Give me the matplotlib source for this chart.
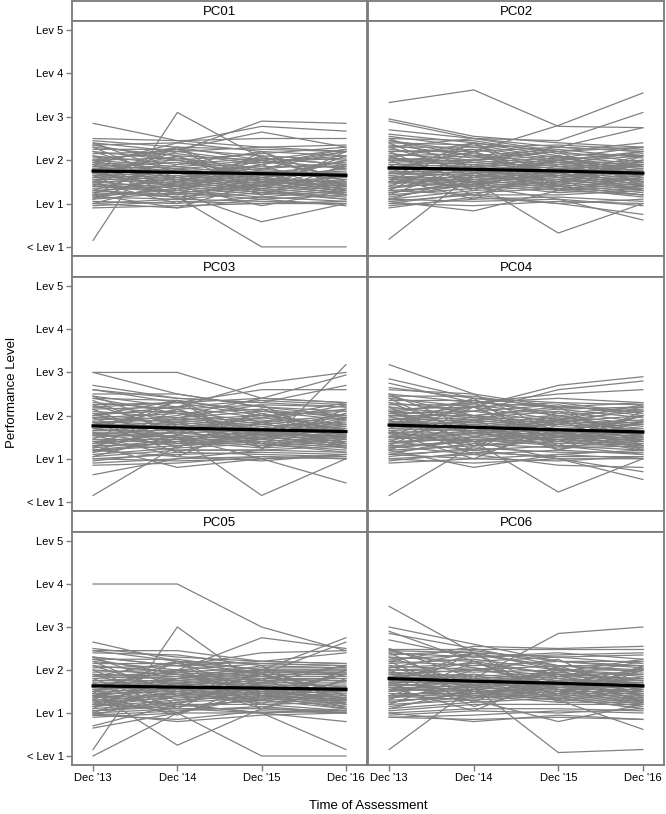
import matplotlib
matplotlib.use("Agg")
import matplotlib.pyplot as plt

plt.rcParams['font.family'] = ['Liberation Sans', 'DejaVu Sans']

time_labels = ["Dec '13", "Dec '14", "Dec '15", "Dec '16"]
level_labels = ["< Lev 1", "Lev 1", "Lev 2", "Lev 3", "Lev 4", "Lev 5"]
panel_names = ["PC01", "PC02", "PC03", "PC04", "PC05", "PC06"]

pc01_lines = [
    [2.5,2.45,2.5,2.5],[2.45,2.3,2.25,2.2],[2.4,2.2,2.3,2.35],[2.35,2.4,2.2,2.1],
    [2.3,2.1,2.0,2.25],[2.25,2.25,2.1,2.0],[2.2,2.0,2.15,2.3],[2.15,2.2,1.95,2.05],
    [2.1,1.9,2.05,1.9],[2.05,2.15,1.9,2.2],[2.0,1.85,2.0,1.8],[2.0,2.05,1.8,1.95],
    [1.95,1.8,1.95,2.1],[1.9,2.0,1.75,1.7],[1.9,1.75,1.85,1.85],[1.85,1.95,1.7,1.9],
    [1.85,1.7,1.8,1.6],[1.8,1.85,1.65,1.75],[1.8,1.6,1.75,1.55],[1.75,1.8,1.6,1.8],
    [1.75,1.55,1.7,1.65],[1.7,1.75,1.55,1.5],[1.7,1.5,1.65,1.7],[1.65,1.7,1.5,1.6],
    [1.65,1.45,1.6,1.45],[1.6,1.65,1.45,1.55],[1.6,1.4,1.55,1.4],[1.55,1.6,1.4,1.65],
    [1.5,1.35,1.5,1.35],[1.5,1.55,1.35,1.5],[1.45,1.3,1.45,1.3],[1.4,1.5,1.3,1.45],
    [1.4,1.25,1.4,1.25],[1.35,1.45,1.25,1.4],[1.3,1.2,1.35,1.2],[1.3,1.4,1.2,1.35],
    [1.25,1.15,1.3,1.15],[1.2,1.3,1.15,1.3],[1.15,1.1,1.25,1.1],[1.1,1.25,1.1,1.2],
    [1.05,1.0,1.15,1.05],[1.0,1.1,1.05,1.0],[0.95,1.05,1.0,1.0],[0.9,0.95,1.0,1.05],
    [1.0,0.9,1.1,0.95],
    [2.3,1.5,2.1,1.4],[1.2,2.1,1.3,2.2],[2.1,1.3,1.9,1.2],[1.4,2.3,1.5,2.0],[1.9,1.2,2.2,1.5],
    [1.1,1.8,1.2,1.9],[2.4,1.7,1.4,2.1],[1.3,1.9,2.2,1.3],[1.8,1.1,1.6,2.0],[1.6,2.3,1.2,1.7],
    [2.2,1.6,1.3,1.1],[1.0,1.5,2.0,1.6],[1.7,2.1,1.5,1.2],[1.5,1.0,1.8,2.2],[2.0,1.4,1.7,1.3],
    [1.25,1.6,1.9,2.25],[2.35,2.0,1.6,1.45],[1.55,1.25,1.4,1.85],[1.95,2.3,2.0,1.6],[1.15,1.35,1.6,1.25],
    [2.85,2.45,2.3,2.2],[0.15,3.1,2.05,1.9],[1.3,1.15,0.0,0.0],[1.45,1.25,0.58,1.0],
    [1.6,2.2,2.9,2.85],[1.9,2.4,2.78,2.67],[2.0,2.25,2.65,2.3],[1.2,0.9,1.5,1.4],
    [1.7,1.4,0.95,1.3],
]
pc02_lines = [
    [2.6,2.4,2.2,2.3],[2.55,2.3,2.35,2.25],[2.5,2.45,2.15,2.1],[2.45,2.2,2.3,2.2],
    [2.4,2.35,2.05,2.3],[2.35,2.1,2.25,2.05],[2.3,2.3,2.0,2.15],[2.25,2.05,2.2,1.95],
    [2.2,2.25,1.95,2.1],[2.15,2.0,2.1,1.9],[2.1,2.15,1.9,2.0],[2.05,1.95,2.05,1.85],
    [2.0,2.1,1.85,1.95],[2.0,1.9,2.0,1.8],[1.95,2.0,1.8,1.9],[1.9,1.85,1.95,1.75],
    [1.9,1.95,1.75,1.85],[1.85,1.8,1.9,1.7],[1.85,1.9,1.7,1.8],[1.8,1.75,1.85,1.65],
    [1.8,1.85,1.65,1.75],[1.75,1.7,1.8,1.6],[1.7,1.8,1.6,1.7],[1.7,1.65,1.75,1.55],
    [1.65,1.75,1.55,1.65],[1.6,1.6,1.7,1.5],[1.6,1.7,1.5,1.6],[1.55,1.55,1.65,1.45],
    [1.5,1.65,1.45,1.55],[1.5,1.5,1.6,1.4],[1.45,1.6,1.4,1.5],[1.4,1.45,1.55,1.35],
    [1.35,1.55,1.35,1.45],[1.3,1.4,1.5,1.3],[1.25,1.5,1.3,1.4],[1.2,1.35,1.45,1.25],
    [1.15,1.45,1.25,1.35],[1.1,1.3,1.4,1.2],[1.05,1.2,1.2,1.3],[1.0,1.25,1.35,1.15],
    [0.95,1.1,1.15,1.05],[0.9,1.15,1.0,1.1],[1.0,0.95,1.05,1.0],[1.1,1.05,1.1,0.95],
    [2.4,1.6,2.0,1.5],[1.3,2.2,1.4,2.1],[2.2,1.4,1.8,1.3],[1.5,2.4,1.6,1.9],[2.0,1.3,2.1,1.6],
    [1.2,1.9,1.3,2.0],[2.5,1.8,1.5,2.0],[1.4,2.0,2.2,1.4],[1.9,1.2,1.7,2.1],[1.7,2.4,1.3,1.6],
    [2.3,1.7,1.4,1.2],[1.1,1.6,2.1,1.7],[1.8,2.2,1.6,1.3],[1.6,1.1,1.9,2.2],[2.1,1.5,1.8,1.4],
    [1.35,1.7,2.0,2.2],[2.45,2.1,1.7,1.5],[1.65,1.35,1.5,1.9],[2.05,2.4,2.1,1.7],[1.25,1.45,1.7,1.3],
    [3.33,3.62,2.78,2.75],[2.2,2.2,2.8,3.55],[2.3,2.5,2.45,3.1],[2.0,2.0,2.3,2.75],
    [2.95,2.55,2.4,2.3],[2.9,2.5,2.3,2.2],[0.18,1.7,1.8,1.9],[1.6,1.5,0.32,1.0],
    [1.5,1.4,1.1,0.62],[1.3,1.2,1.0,0.75],[1.05,0.83,1.3,1.2],[2.7,2.5,2.2,2.4],
]
pc03_lines = [
    [2.7,2.4,2.3,2.2],[2.6,2.3,2.4,2.3],[2.5,2.5,2.2,2.1],[2.45,2.2,2.35,2.25],
    [2.4,2.35,2.1,2.0],[2.3,2.15,2.25,2.2],[2.25,2.3,2.0,2.1],[2.2,2.05,2.15,1.95],
    [2.15,2.2,1.95,2.15],[2.1,1.95,2.1,1.9],[2.05,2.1,1.85,2.0],[2.0,1.9,2.0,1.8],
    [1.95,2.05,1.8,1.95],[1.95,1.85,1.95,1.75],[1.9,1.95,1.75,1.85],[1.85,1.8,1.9,1.7],
    [1.85,1.9,1.7,1.8],[1.8,1.75,1.85,1.65],[1.75,1.85,1.65,1.75],[1.75,1.7,1.8,1.6],
    [1.7,1.8,1.6,1.7],[1.65,1.65,1.7,1.55],[1.65,1.75,1.55,1.65],[1.6,1.6,1.65,1.5],
    [1.55,1.7,1.5,1.6],[1.55,1.5,1.6,1.45],[1.5,1.6,1.45,1.55],[1.45,1.45,1.55,1.4],
    [1.4,1.55,1.4,1.5],[1.4,1.4,1.5,1.35],[1.35,1.5,1.35,1.45],[1.3,1.35,1.45,1.3],
    [1.25,1.45,1.3,1.4],[1.2,1.3,1.4,1.25],[1.15,1.4,1.25,1.35],[1.1,1.25,1.35,1.2],
    [1.05,1.2,1.2,1.15],[1.0,1.1,1.15,1.1],[0.95,1.15,1.1,1.05],[0.9,1.0,1.05,1.0],
    [1.0,0.95,1.0,1.05],[0.85,0.9,1.05,1.0],[1.2,1.05,0.95,1.1],
    [2.35,1.55,2.05,1.45],[1.25,2.15,1.35,2.15],[2.15,1.35,1.85,1.25],[1.45,2.35,1.55,1.95],[1.95,1.25,2.15,1.55],
    [1.15,1.85,1.25,1.95],[2.45,1.75,1.45,2.05],[1.35,1.95,2.25,1.35],[1.85,1.15,1.65,2.05],[1.65,2.35,1.25,1.65],
    [2.25,1.65,1.35,1.15],[1.05,1.55,2.05,1.65],[1.75,2.15,1.55,1.25],[1.55,1.05,1.85,2.25],[2.05,1.45,1.75,1.35],
    [1.3,1.65,1.95,2.3],[2.4,2.05,1.65,1.5],[1.6,1.3,1.45,1.9],[2.0,2.35,2.05,1.65],[1.2,1.4,1.65,1.3],
    [3.0,3.0,2.4,2.3],[3.0,2.5,2.2,2.0],[0.15,1.3,1.6,1.5],[1.4,1.2,1.2,3.18],
    [1.6,1.5,0.15,1.0],[1.7,1.5,1.0,0.44],[0.63,1.0,1.2,1.3],[2.0,2.2,2.75,3.0],
    [1.8,2.0,2.4,2.94],[2.2,2.3,2.6,2.6],[1.3,0.8,1.0,1.1],[2.6,2.4,2.3,2.7],
]
pc04_lines = [
    [2.65,2.4,2.3,2.25],[2.6,2.5,2.2,2.1],[2.5,2.3,2.4,2.3],[2.45,2.45,2.15,2.2],
    [2.4,2.2,2.3,2.05],[2.35,2.35,2.05,2.2],[2.3,2.1,2.25,2.0],[2.25,2.25,2.0,2.15],
    [2.2,2.0,2.15,1.95],[2.15,2.2,1.9,2.1],[2.1,1.95,2.1,1.85],[2.05,2.1,1.85,2.0],
    [2.0,1.9,2.0,1.8],[2.0,2.0,1.8,1.9],[1.95,1.85,1.95,1.75],[1.9,1.95,1.75,1.85],
    [1.85,1.8,1.9,1.7],[1.85,1.9,1.7,1.8],[1.8,1.75,1.85,1.65],[1.8,1.85,1.65,1.7],
    [1.75,1.7,1.8,1.6],[1.7,1.8,1.6,1.65],[1.7,1.65,1.7,1.55],[1.65,1.75,1.55,1.6],
    [1.6,1.6,1.65,1.5],[1.6,1.7,1.5,1.55],[1.55,1.55,1.6,1.45],[1.5,1.65,1.45,1.5],
    [1.5,1.5,1.55,1.4],[1.45,1.6,1.4,1.45],[1.4,1.45,1.5,1.35],[1.35,1.5,1.35,1.4],
    [1.3,1.4,1.45,1.3],[1.25,1.45,1.3,1.35],[1.2,1.3,1.4,1.25],[1.15,1.35,1.25,1.3],
    [1.1,1.2,1.3,1.2],[1.05,1.25,1.15,1.15],[1.0,1.1,1.2,1.1],[0.95,1.15,1.05,1.05],
    [0.9,1.0,1.1,1.0],[1.0,0.9,1.0,1.0],[1.1,1.0,0.95,1.05],
    [2.4,1.5,1.95,1.4],[1.3,2.2,1.3,2.1],[2.2,1.3,1.9,1.2],[1.5,2.3,1.5,2.0],[2.0,1.2,2.1,1.5],
    [1.2,1.9,1.2,1.9],[2.5,1.7,1.4,2.0],[1.4,2.0,2.2,1.3],[1.9,1.1,1.6,2.0],[1.7,2.4,1.2,1.6],
    [2.3,1.6,1.3,1.1],[1.1,1.5,2.0,1.6],[1.8,2.2,1.5,1.2],[1.6,1.0,1.8,2.2],[2.1,1.4,1.7,1.3],
    [1.35,1.6,1.9,2.25],[2.45,2.0,1.6,1.45],[1.65,1.3,1.4,1.85],[2.05,2.35,2.0,1.6],[1.25,1.4,1.6,1.25],
    [3.18,2.5,1.6,1.4],[2.85,2.4,2.2,2.1],[2.75,2.3,2.2,2.3],[0.15,1.3,1.5,1.6],
    [1.5,1.4,0.23,1.0],[1.6,1.4,1.0,0.52],[2.0,2.2,2.7,2.9],[1.9,2.1,2.6,2.8],
    [2.1,2.3,2.5,2.6],[1.2,0.8,1.1,1.2],[1.3,1.1,0.85,0.8],[1.4,1.2,1.0,0.7],
]
pc05_lines = [
    [2.5,2.3,2.2,2.15],[2.45,2.2,2.15,2.1],[2.4,2.35,2.1,2.05],[2.3,2.1,2.2,2.15],
    [2.25,2.25,2.0,2.0],[2.2,2.0,2.15,2.1],[2.15,2.15,1.95,1.95],[2.1,1.95,2.05,2.05],
    [2.05,2.1,1.9,1.9],[2.0,1.9,2.0,2.0],[1.95,2.0,1.85,1.85],[1.9,1.85,1.95,1.95],
    [1.85,1.95,1.8,1.8],[1.85,1.8,1.9,1.9],[1.8,1.9,1.75,1.75],[1.75,1.75,1.85,1.85],
    [1.75,1.85,1.7,1.7],[1.7,1.7,1.8,1.75],[1.65,1.8,1.65,1.65],[1.65,1.65,1.75,1.6],
    [1.6,1.75,1.6,1.55],[1.55,1.6,1.7,1.5],[1.55,1.7,1.55,1.6],[1.5,1.55,1.65,1.45],
    [1.45,1.65,1.5,1.55],[1.45,1.5,1.6,1.4],[1.4,1.6,1.45,1.5],[1.35,1.45,1.55,1.35],
    [1.35,1.55,1.4,1.45],[1.3,1.4,1.5,1.3],[1.25,1.5,1.35,1.4],[1.25,1.35,1.45,1.25],
    [1.2,1.45,1.3,1.35],[1.15,1.3,1.4,1.2],[1.15,1.4,1.25,1.3],[1.1,1.25,1.35,1.15],
    [1.05,1.2,1.2,1.25],[1.05,1.15,1.3,1.1],[1.0,1.1,1.1,1.05],[0.95,1.05,1.15,1.0],
    [0.9,1.0,1.0,1.05],[0.95,0.85,1.05,1.0],[1.0,0.8,0.95,1.0],
    [2.2,1.4,1.9,1.3],[1.1,2.0,1.2,2.0],[2.0,1.2,1.8,1.1],[1.3,2.2,1.4,1.9],[1.8,1.1,2.0,1.4],
    [1.0,1.7,1.1,1.8],[2.3,1.6,1.3,2.0],[1.2,1.8,2.1,1.2],[1.7,1.0,1.5,1.9],[1.5,2.2,1.1,1.6],
    [2.1,1.5,1.2,1.05],[0.95,1.4,1.9,1.5],[1.6,2.0,1.4,1.1],[1.4,0.95,1.7,2.1],[1.9,1.3,1.6,1.2],
    [1.15,1.5,1.8,2.1],[2.25,1.9,1.5,1.35],[1.45,1.15,1.3,1.75],[1.85,2.2,1.9,1.5],[1.05,1.25,1.5,1.15],
    [4.0,4.0,3.0,2.45],[0.15,3.0,1.6,1.5],[2.65,2.2,2.0,1.9],[2.45,2.45,2.2,2.4],
    [0.0,1.0,1.5,1.6],[0.7,1.2,1.0,1.1],[0.65,1.0,1.4,1.3],[1.5,0.25,1.1,1.0],
    [1.3,1.0,0.0,0.0],[1.4,1.2,1.0,0.15],[1.2,1.1,1.0,0.8],[1.6,2.0,2.75,2.5],
    [1.5,1.8,2.0,2.75],[1.4,1.6,1.9,2.65],[2.3,2.1,2.4,2.45],
]
pc06_lines = [
    [2.5,2.5,2.5,2.5],[2.45,2.4,2.3,2.35],[2.4,2.3,2.4,2.25],[2.35,2.45,2.2,2.2],
    [2.3,2.2,2.3,2.15],[2.25,2.35,2.1,2.1],[2.2,2.1,2.2,2.05],[2.15,2.25,2.0,2.0],
    [2.1,2.0,2.1,1.95],[2.05,2.15,1.9,1.9],[2.0,1.95,2.0,1.85],[2.0,2.05,1.85,1.8],
    [1.95,1.85,1.95,1.75],[1.9,2.0,1.8,1.7],[1.9,1.8,1.9,1.65],[1.85,1.9,1.75,1.75],
    [1.85,1.75,1.85,1.6],[1.8,1.85,1.7,1.7],[1.8,1.7,1.8,1.55],[1.75,1.8,1.65,1.65],
    [1.75,1.65,1.75,1.5],[1.7,1.75,1.6,1.6],[1.65,1.6,1.7,1.45],[1.65,1.7,1.55,1.55],
    [1.6,1.55,1.65,1.4],[1.55,1.65,1.5,1.5],[1.55,1.5,1.6,1.35],[1.5,1.6,1.45,1.45],
    [1.45,1.45,1.55,1.3],[1.4,1.55,1.4,1.4],[1.4,1.4,1.5,1.25],[1.35,1.5,1.35,1.35],
    [1.3,1.35,1.45,1.2],[1.25,1.45,1.3,1.3],[1.2,1.3,1.4,1.15],[1.15,1.4,1.25,1.25],
    [1.1,1.25,1.35,1.1],[1.05,1.2,1.2,1.2],[1.0,1.1,1.1,1.05],[0.95,1.05,1.0,1.1],
    [0.9,0.95,1.05,1.0],[0.9,0.85,0.9,0.85],[1.0,0.8,0.95,0.85],
    [2.4,1.5,2.0,1.4],[1.3,2.2,1.4,2.1],[2.2,1.35,1.9,1.25],[1.5,2.4,1.5,2.0],[2.0,1.25,2.1,1.5],
    [1.2,1.9,1.3,2.0],[2.5,1.8,1.45,2.05],[1.4,2.0,2.25,1.35],[1.95,1.15,1.65,2.05],[1.7,2.4,1.25,1.6],
    [2.3,1.65,1.35,1.1],[1.1,1.55,2.05,1.6],[1.8,2.2,1.55,1.2],[1.6,1.05,1.85,2.2],[2.1,1.45,1.75,1.3],
    [1.35,1.65,1.95,2.25],[2.45,2.05,1.65,1.45],[1.65,1.35,1.45,1.85],[2.05,2.4,2.05,1.65],[1.25,1.45,1.65,1.25],
    [3.48,2.4,2.0,1.9],[3.0,2.6,2.2,2.1],[2.9,2.2,1.9,1.8],[2.85,2.5,2.1,2.0],
    [2.7,2.3,2.35,2.4],[0.15,1.6,1.7,1.8],[1.9,1.6,0.08,0.15],[1.5,1.8,2.85,3.0],
    [1.7,1.5,1.3,0.62],[1.4,1.3,0.8,1.2],[2.2,2.55,2.5,2.55],
]

mean_pc01 = [1.75, 1.72, 1.69, 1.65]
mean_pc02 = [1.82, 1.79, 1.75, 1.70]
mean_pc03 = [1.76, 1.71, 1.67, 1.63]
mean_pc04 = [1.78, 1.73, 1.67, 1.62]
mean_pc05 = [1.63, 1.60, 1.58, 1.55]
mean_pc06 = [1.80, 1.74, 1.69, 1.63]

all_lines = [pc01_lines, pc02_lines, pc03_lines, pc04_lines, pc05_lines, pc06_lines]
all_means = [mean_pc01, mean_pc02, mean_pc03, mean_pc04, mean_pc05, mean_pc06]

W, H = 666, 814
fig = plt.figure(figsize=(W / 100, H / 100), dpi=100)

col_x = [(72, 367), (368, 664)]
rows = [(1, 21, 256), (256, 277, 511), (511, 532, 765)]  # strip top, panel top, panel bottom
frame_color = '#7a7a7a'
line_color = '#808080'
xpos = list(range(len(time_labels)))

def rect(x0, x1, ytop, ybot):
    return [x0 / W, 1 - ybot / H, (x1 - x0) / W, (ybot - ytop) / H]

for i, name in enumerate(panel_names):
    r, c = divmod(i, 2)
    x0, x1 = col_x[c]
    st, pt, pb = rows[r]
    sax = fig.add_axes(rect(x0, x1, st, pt))
    sax.set_xticks([]); sax.set_yticks([])
    for s in sax.spines.values():
        s.set_color(frame_color); s.set_linewidth(1.3)
    sax.text(0.5, 0.45, name, ha='center', va='center', fontsize=9.5, transform=sax.transAxes)
    ax = fig.add_axes(rect(x0, x1, pt, pb))
    for ln in all_lines[i]:
        ax.plot(xpos, ln, color=line_color, lw=0.9)
    ax.plot(xpos, all_means[i], color='black', lw=2.3, zorder=5)
    ax.set_xlim(-0.25, 3.25)
    ax.set_ylim(-0.21, 5.21)
    for s in ax.spines.values():
        s.set_color(frame_color); s.set_linewidth(1.3)
    ax.tick_params(axis='both', color=frame_color, length=4, width=1, labelsize=8, pad=2)
    ax.set_yticks(range(len(level_labels)))
    if c == 0:
        ax.set_yticklabels(level_labels)
    else:
        ax.tick_params(axis='y', left=False, labelleft=False)
    ax.set_xticks(xpos)
    if r == 2:
        ax.set_xticklabels(time_labels)
    else:
        ax.tick_params(axis='x', bottom=False, labelbottom=False)

fig.text(12 / W, 1 - 393 / H, 'Performance Level', rotation=90, ha='center', va='center', fontsize=9.5)
fig.text(368 / W, 1 - 806 / H, 'Time of Assessment', ha='center', va='center', fontsize=9.5)

fig.savefig('out.png', dpi=100)
